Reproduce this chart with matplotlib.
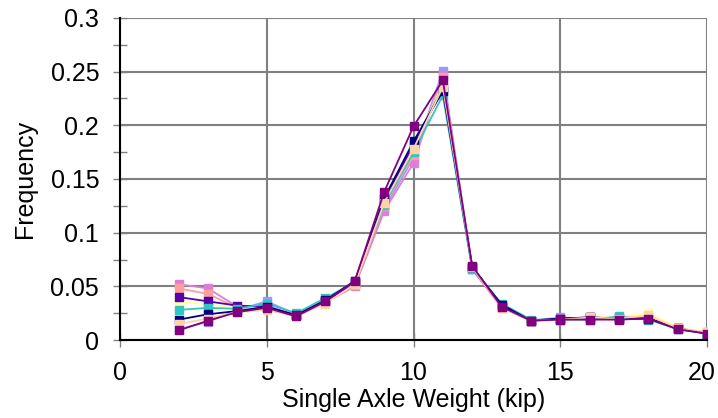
import matplotlib
matplotlib.use("Agg")
import matplotlib.pyplot as plt
from matplotlib.ticker import MultipleLocator
from matplotlib.transforms import ScaledTranslation

plt.rcParams["font.family"] = ["Liberation Sans", "DejaVu Sans"]

weight = [2, 3, 4, 5, 6, 7, 8, 9, 10, 11, 12, 13, 14, 15, 16, 17, 18, 19, 20]

s_lightblue = [0.010, 0.017, 0.028, 0.036, 0.024, 0.037, 0.052, 0.122, 0.170, 0.251, 0.066, 0.031, 0.018, 0.021, 0.020, 0.020, 0.020, 0.010, 0.006]
s_plum = [0.052, 0.048, 0.031, 0.032, 0.023, 0.035, 0.050, 0.120, 0.165, 0.247, 0.066, 0.030, 0.018, 0.020, 0.021, 0.021, 0.021, 0.011, 0.007]
s_salmon = [0.048, 0.043, 0.030, 0.031, 0.023, 0.035, 0.051, 0.125, 0.172, 0.245, 0.067, 0.031, 0.018, 0.019, 0.020, 0.021, 0.022, 0.011, 0.007]
s_yellow = [0.036, 0.033, 0.030, 0.030, 0.022, 0.036, 0.053, 0.128, 0.180, 0.238, 0.068, 0.032, 0.018, 0.020, 0.021, 0.022, 0.025, 0.012, 0.007]
s_indigo = [0.040, 0.036, 0.032, 0.031, 0.023, 0.036, 0.053, 0.130, 0.182, 0.235, 0.068, 0.032, 0.018, 0.020, 0.021, 0.020, 0.020, 0.011, 0.006]
s_teal = [0.028, 0.030, 0.029, 0.034, 0.025, 0.039, 0.054, 0.126, 0.175, 0.228, 0.066, 0.034, 0.019, 0.019, 0.019, 0.022, 0.019, 0.010, 0.006]
s_navy = [0.019, 0.024, 0.027, 0.031, 0.023, 0.037, 0.055, 0.132, 0.185, 0.232, 0.068, 0.033, 0.018, 0.020, 0.021, 0.020, 0.020, 0.011, 0.006]
s_peach = [0.015, 0.020, 0.026, 0.028, 0.022, 0.034, 0.052, 0.128, 0.178, 0.236, 0.068, 0.030, 0.018, 0.019, 0.021, 0.020, 0.023, 0.011, 0.007]
s_purple = [0.009, 0.018, 0.026, 0.030, 0.022, 0.036, 0.055, 0.138, 0.199, 0.242, 0.069, 0.031, 0.018, 0.019, 0.019, 0.019, 0.020, 0.010, 0.006]

series = [
    (s_lightblue, "#9999FF"),
    (s_plum, "#DA80DA"),
    (s_salmon, "#FF9E9E"),
    (s_yellow, "#FFFFA8"),
    (s_indigo, "#5A00AA"),
    (s_teal, "#33C4C4"),
    (s_navy, "#000080"),
    (s_peach, "#FFD3A8"),
    (s_purple, "#800080"),
]

fig = plt.figure(figsize=(7.18, 4.18), dpi=100)
ax = fig.add_axes([120 / 718, (418 - 340) / 418, 587 / 718, 322 / 418])

for vals, col in series:
    ax.plot(weight, vals, color=col, lw=1.3, marker="s", ms=6, mec=col, mfc=col)

ax.set_xlim(0, 20)
ax.set_ylim(0, 0.3)
ax.set_xticks([0, 5, 10, 15, 20])
ax.yaxis.set_minor_locator(MultipleLocator(0.025))
ax.set_yticks([0, 0.05, 0.1, 0.15, 0.2, 0.25, 0.3])
ax.set_yticklabels(["0", "0.05", "0.1", "0.15", "0.2", "0.25", "0.3"])

ax.grid(True, which="major", color="#808080", lw=1.5)
ax.set_axisbelow(True)
for side in ["top", "right"]:
    ax.spines[side].set_visible(False)
for side in ["left", "bottom"]:
    ax.spines[side].set_color("black")
    ax.spines[side].set_linewidth(1.5)

ax.tick_params(which="major", direction="inout", length=10, width=1, colors="#808080",
               labelcolor="black", labelsize=18)
ax.tick_params(which="minor", direction="inout", length=10, width=1, colors="#808080")
ax.tick_params(axis="x", pad=10)
ax.tick_params(axis="y", pad=10)

# keep the "20" inside the picture, as the original does
last = ax.get_xticklabels()[-1]
last.set_transform(last.get_transform() + ScaledTranslation(-5 / 100, 0, fig.dpi_scale_trans))

ax.set_xlabel("Single Axle Weight (kip)", fontsize=18, labelpad=2)
ax.set_ylabel("Frequency", fontsize=18, labelpad=10)

fig.savefig("out.png", dpi=100)
